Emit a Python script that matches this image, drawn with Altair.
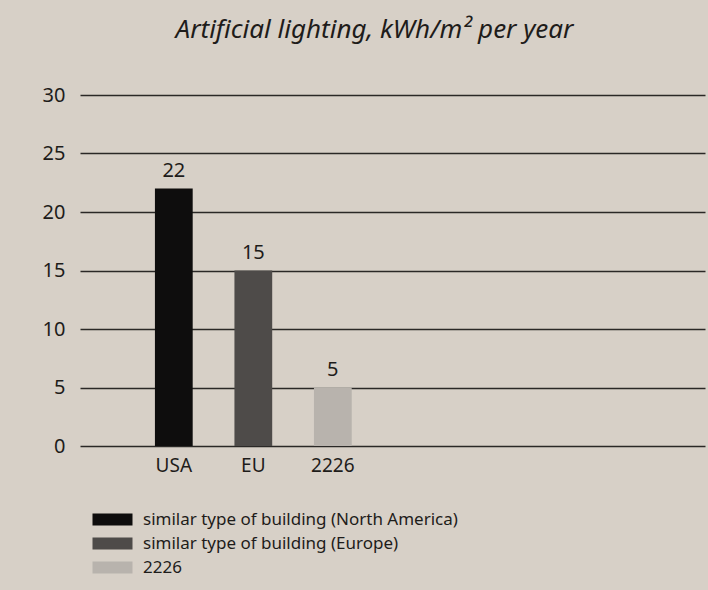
import altair as alt
import pandas as pd

categories = ["USA", "EU", "2226"]
values = [22, 15, 5]
series = [
    "similar type of building (North America)",
    "similar type of building (Europe)",
    "2226",
]
colors = ["#0e0d0d", "#4e4b49", "#b8b3ad"]
y_ticks = [0, 5, 10, 15, 20, 25, 30]
# empty slots that leave the right part of the plot without bars
empty_slots = [" ", "  ", "   ", "    "]

df = pd.DataFrame({"cat": categories, "value": values, "series": series})

FONT = "Noto Sans"
INK = "#1e1c1a"

x_domain = categories + empty_slots

x_enc = alt.X(
    "cat:N",
    sort=categories,
    scale=alt.Scale(domain=x_domain, paddingInner=0.525, paddingOuter=0.693, align=0.68),
    axis=alt.Axis(title=None, labelAngle=0, domain=False, ticks=False, labelPadding=10,
                  labelFontSize=19, labelColor=INK, labelFont=FONT, grid=False),
)
y_enc = alt.Y(
    "value:Q",
    scale=alt.Scale(domain=[0, 30]),
    axis=alt.Axis(title=None, values=y_ticks, domain=False, ticks=False, labelPadding=15,
                  labelFontSize=20, labelColor=INK, labelFont=FONT, grid=True,
                  gridColor="#2a2826", gridWidth=1.3, gridOpacity=1),
)

bars = alt.Chart(df).mark_bar().encode(
    x=x_enc,
    y=y_enc,
    color=alt.Color(
        "series:N",
        scale=alt.Scale(domain=series, range=colors),
        legend=alt.Legend(
            title=None,
            orient="none",
            legendX=24,
            legendY=416,
            symbolType="M-3.333,-1H3.333V1H-3.333Z",
            symbolSize=144,
            symbolStrokeWidth=0,
            symbolOpacity=1,
            labelFontSize=17,
            labelFont=FONT,
            labelColor=INK,
            labelOffset=22,
            rowPadding=6,
            labelLimit=500,
        ),
    ),
)

labels = alt.Chart(df).mark_text(baseline="bottom", dy=-8, fontSize=20, font=FONT, color=INK).encode(
    x=alt.X("cat:N", sort=categories),
    y=alt.Y("value:Q"),
    text=alt.Text("value:Q"),
)

chart = (
    alt.layer(bars, labels)
    .properties(
        width=625,
        height=351,
        autosize=alt.AutoSizeParams(type="none"),
        padding={"left": 80, "top": 95, "right": 3, "bottom": 144},
        background="#d7d0c7",
        title=alt.TitleParams(
            "Artificial lighting, kWh/m² per year",
            font=FONT,
            fontSize=26,
            fontStyle="italic",
            fontWeight="normal",
            color=INK,
            anchor="middle",
            dx=-18,
            offset=42,
        ),
    )
    .configure_view(stroke=None)
)

chart.save("out.html", embed_options={"renderer": "svg", "actions": False})
